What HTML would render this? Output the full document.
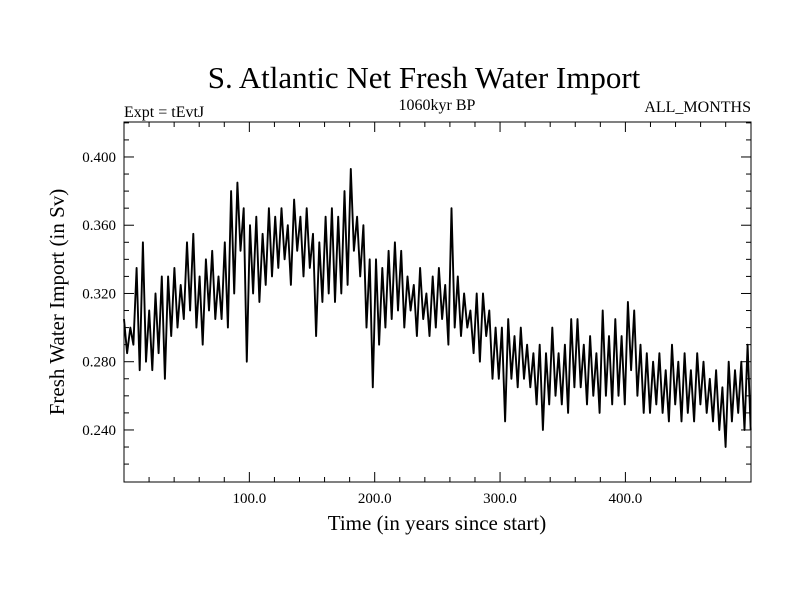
<!DOCTYPE html>
<html><head><meta charset="utf-8"><style>
body{margin:0;background:#fff}
svg text{font-family:"Liberation Serif",serif;fill:#000}
</style></head><body>
<svg id="c" width="800" height="600">
<text x="424" y="88" font-size="31" text-anchor="middle">S. Atlantic Net Fresh Water Import</text>
<text x="124" y="117" font-size="16">Expt = tEvtJ</text>
<text x="437" y="110" font-size="16" text-anchor="middle">1060kyr BP</text>
<text x="751" y="112" font-size="16" text-anchor="end">ALL_MONTHS</text>
<text x="437" y="530" font-size="21" text-anchor="middle">Time (in years since start)</text>
<text transform="translate(64,302) rotate(-90)" font-size="21" text-anchor="middle">Fresh Water Import (in Sv)</text>
<g id="ax"></g>
<path id="ln" fill="none" stroke="#000" stroke-width="1.9" stroke-linejoin="round"/>
<rect x="124" y="122" width="627" height="360" fill="none" stroke="#000" stroke-width="1"/>
</svg>
<script>
const values=[0.305,0.285,0.300,0.290,0.335,0.275,0.350,0.280,
0.310,0.275,0.320,0.285,0.330,0.270,0.330,0.295,
0.335,0.300,0.325,0.305,0.350,0.310,0.355,0.300,
0.330,0.290,0.340,0.310,0.345,0.305,0.330,0.305,
0.350,0.300,0.380,0.320,0.385,0.345,0.370,0.280,
0.360,0.320,0.365,0.315,0.355,0.325,0.370,0.330,
0.365,0.335,0.370,0.340,0.360,0.325,0.375,0.345,
0.365,0.330,0.370,0.335,0.355,0.295,0.350,0.315,
0.365,0.320,0.370,0.315,0.365,0.320,0.380,0.325,
0.393,0.345,0.365,0.330,0.360,0.300,0.340,0.265,
0.340,0.290,0.335,0.300,0.345,0.305,0.350,0.310,
0.345,0.300,0.330,0.310,0.325,0.295,0.335,0.305,
0.320,0.295,0.330,0.300,0.335,0.305,0.325,0.290,
0.370,0.300,0.330,0.295,0.320,0.300,0.310,0.285,
0.320,0.280,0.320,0.295,0.310,0.270,0.300,0.270,
0.300,0.245,0.305,0.270,0.295,0.265,0.300,0.270,
0.290,0.265,0.285,0.255,0.290,0.240,0.285,0.255,
0.300,0.260,0.285,0.255,0.290,0.250,0.305,0.265,
0.305,0.265,0.290,0.255,0.295,0.260,0.285,0.250,
0.310,0.260,0.295,0.255,0.305,0.260,0.295,0.255,
0.315,0.275,0.310,0.260,0.290,0.250,0.285,0.250,
0.280,0.255,0.285,0.250,0.275,0.245,0.290,0.255,
0.280,0.245,0.285,0.250,0.275,0.245,0.285,0.255,
0.280,0.250,0.270,0.245,0.275,0.240,0.265,0.230,
0.280,0.245,0.275,0.250,0.280,0.240,0.290,0.240];
const xTicks=[100,200,300,400];
const xTickLabels=["100.0","200.0","300.0","400.0"];
const yTicks=[0.24,0.28,0.32,0.36,0.40];
const yTickLabels=["0.240","0.280","0.320","0.360","0.400"];
const X0=124,X1=751,Y0=482,Y1=122,XMIN=0,XMAX=500.2,YMIN=0.2095,YMAX=0.4205;
const xs=v=>X0+(v-XMIN)/(XMAX-XMIN)*(X1-X0);
const ys=v=>Y0-(v-YMIN)/(YMAX-YMIN)*(Y0-Y1);
const step=500/(values.length-1);
let d="";values.forEach((v,i)=>{d+=(i?"L":"M")+xs(i*step).toFixed(1)+","+ys(v).toFixed(1)});
document.getElementById("ln").setAttribute("d",d);
const ax=document.getElementById("ax");const NS="http://www.w3.org/2000/svg";
function ln(x1,y1,x2,y2){const l=document.createElementNS(NS,"line");l.setAttribute("x1",x1);l.setAttribute("y1",y1);l.setAttribute("x2",x2);l.setAttribute("y2",y2);l.setAttribute("stroke","#000");


ax.appendChild(l);}
function tx(x,y,s,a,n){const t=document.createElementNS(NS,"text");t.setAttribute("x",x);t.setAttribute("y",y);t.setAttribute("font-size","15");t.setAttribute("text-anchor",a);t.textContent=s;


ax.appendChild(t);}
for(let v=20;v<500;v+=20){const x=xs(v),mj=v%100==0,L=mj?10:5;ln(x,Y0,x,Y0-L);ln(x,Y1,x,Y1+L);}
for(let k=22;k<=42;k++){const v=k/100,y=ys(v),mj=k%4==0,L=mj?10:5;ln(X0,y,X0+L,y);ln(X1,y,X1-L,y);}
xTicks.forEach((v,i)=>tx(xs(v),503,xTickLabels[i],"middle","x-tick-label"));
yTicks.forEach((v,i)=>tx(X0-8,ys(v)+5,yTickLabels[i],"end","y-tick-label"));
</script>
</body></html>
